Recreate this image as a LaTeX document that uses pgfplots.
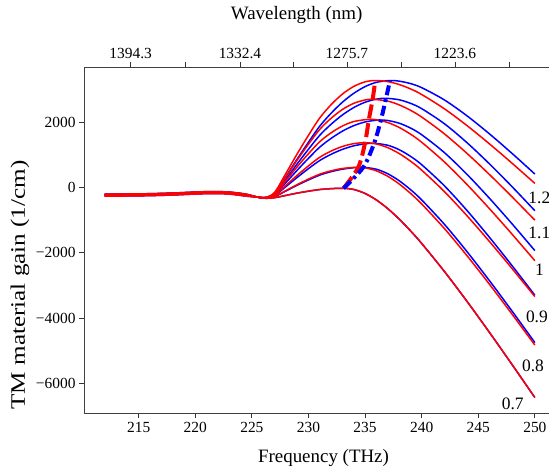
\documentclass[border=0pt]{standalone}
\usepackage{pgfplots}
\pgfplotsset{compat=1.18}
\usepackage{fontspec}
\setmainfont{Liberation Serif}

\definecolor{gainred}{RGB}{255,0,0}
\definecolor{gainblue}{RGB}{0,0,255}

\pgfplotsset{
  frame/.style={
    at={(84bp,57.7bp)}, anchor=south west,
    scale only axis, width=473.5bp, height=346.3bp,
    xmin=210.17, xmax=252, ymin=-6919, ymax=3684,
    tick align=outside,
    major tick length=5bp, minor tick length=5bp,
    tick style={black!80, line width=0.8bp},
    axis line style={black!75, line width=0.9bp},
    tick label style={font=\fontsize{15.5}{17}\selectfont},
    /pgf/number format/assume math mode=true,
  },
  gr/.style={gainred, line width=1.5bp, smooth, no markers},
  gb/.style={gainblue, line width=1.5bp, smooth, no markers},
}

\begin{document}
\begin{tikzpicture}
% wavelength scale along the top
\begin{axis}[frame,
  hide y axis,
  axis x line*=top,
  xtick pos=right, xticklabel pos=right,
  xtick={214.29,223.95,233.40,242.94},
  xticklabels={1394.3,1332.4,1275.7,1223.6},
  minor xtick={219.09,228.64,238.17,247.71},
]
\end{axis}

\begin{axis}[frame,
  xtick pos=left, ytick pos=left,
  xtick={215,220,...,250},
  ytick={-6000,-4000,-2000,0,2000},
  yticklabels={−6000,−4000,−2000,0,2000},
  clip=false,
]
% blue set
\addplot[gb] coordinates {(212,-270) (214,-265) (216,-255) (218,-235) (220,-205) (221.5,-190) (223,-205) (224.5,-270) (225.5,-300) (226.2,-335)
 (227,-318) (228,-248) (229,-178) (230,-118) (231,-68) (232,-41) (233.1,-30) (234,-66) (235,-188) (236,-387) (237,-651) (238,-968) (239,-1327) (240,-1718) (242,-2572) (244,-3489) (246,-4448) (248,-5434) (250,-6436)};
\addplot[gb] coordinates {(212,-255) (214,-250) (216,-240) (218,-220) (220,-190) (221.5,-175) (223,-190) (224.5,-255) (225.5,-300) (226.2,-330)
 (227,-286) (228,-114) (229,62) (230,226) (231,374) (232,479) (233,555) (234,600) (234.84,612) (236,554) (237,416) (238,205) (239,-66) (240,-385) (242,-1129) (244,-1967) (246,-2864) (248,-3797) (250,-4754)};
\addplot[gb] coordinates {(212,-240) (214,-235) (216,-225) (218,-205) (220,-175) (221.5,-160) (223,-175) (224.5,-240) (225.5,-300) (226.2,-325)
 (227,-255) (228,20) (229,303) (230,572) (231,822) (232,1011) (233,1162) (234,1270) (235,1332) (235.8,1347) (237,1288) (238,1154) (239,952) (240,693) (242,49) (244,-708) (246,-1535) (248,-2405) (250,-3304)};
\addplot[gb] coordinates {(212,-230) (214,-225) (216,-215) (218,-195) (220,-165) (221.5,-150) (223,-165) (224.5,-230) (225.5,-300) (226.2,-320)
 (227,-226) (228,141) (229,522) (230,887) (231,1232) (232,1498) (233,1720) (234,1888) (235,2001) (236,2055) (236.4,2060) (237,2046) (238,1965) (239,1817) (240,1610) (242,1065) (244,399) (246,-340) (248,-1124) (250,-1938)};
\addplot[gb] coordinates {(212,-220) (214,-215) (216,-205) (218,-185) (220,-155) (221.5,-140) (223,-155) (224.5,-220) (225.5,-300) (226.2,-315)
 (227,-201) (228,247) (229,716) (230,1166) (231,1594) (232,1932) (233,2216) (234,2442) (235,2605) (236,2700) (236.85,2725) (238,2681) (239,2573) (240,2409) (242,1949) (244,1368) (246,714) (248,14) (250,-716)};
\addplot[gb] coordinates {(212,-210) (214,-205) (216,-195) (218,-175) (220,-145) (221.5,-130) (223,-145) (224.5,-210) (225.5,-300) (226.2,-310)
 (227,-181) (228,330) (229,864) (230,1381) (231,1875) (232,2268) (233,2606) (234,2878) (235,3083) (236,3214) (237.2,3270) (238,3251) (239,3177) (240,3051) (242,2677) (244,2190) (246,1633) (248,1033) (250,406)};
% red set
\addplot[gr] coordinates {(212,-270) (214,-265) (216,-255) (218,-235) (220,-205) (221.5,-190) (223,-205) (224.5,-270) (225.5,-300) (226.2,-335)
 (227,-318) (228,-248) (229,-178) (230,-118) (231,-68) (232,-41) (233.1,-30) (234,-66) (235,-188) (236,-387) (237,-651) (238,-968) (239,-1327) (240,-1718) (242,-2572) (244,-3489) (246,-4448) (248,-5434) (250,-6436)};
\addplot[gr] coordinates {(212,-255) (214,-250) (216,-240) (218,-220) (220,-190) (221.5,-175) (223,-190) (224.5,-255) (225.5,-300) (226.2,-330)
 (227,-283) (228,-102) (229,82) (230,252) (231,403) (232,505) (233,576) (234,609) (234.4,612) (235,597) (236,505) (237,338) (238,106) (239,-181) (240,-509) (242,-1259) (244,-2091) (246,-2974) (248,-3891) (250,-4829)};
\addplot[gr] coordinates {(212,-240) (214,-235) (216,-225) (218,-205) (220,-175) (221.5,-160) (223,-175) (224.5,-240) (225.5,-300) (226.2,-325)
 (227,-246) (228,57) (229,367) (230,657) (231,921) (232,1110) (233,1251) (234,1337) (235,1366) (236,1328) (237,1215) (238,1037) (239,804) (240,526) (242,-128) (244,-869) (246,-1664) (248,-2493) (250,-3346)};
\addplot[gr] coordinates {(212,-230) (214,-225) (216,-215) (218,-195) (220,-165) (221.5,-150) (223,-165) (224.5,-230) (225.5,-300) (226.2,-320)
 (227,-211) (228,202) (229,628) (230,1029) (231,1398) (232,1669) (233,1877) (234,2014) (235.34,2083) (236,2067) (237,1984) (238,1835) (239,1631) (240,1380) (242,779) (244,87) (246,-659) (248,-1441) (250,-2247)};
\addplot[gr] coordinates {(212,-220) (214,-215) (216,-205) (218,-185) (220,-155) (221.5,-140) (223,-155) (224.5,-220) (225.5,-300) (226.2,-315)
 (227,-184) (228,315) (229,832) (230,1322) (231,1775) (232,2115) (233,2383) (234,2571) (235,2675) (235.67,2695) (237,2639) (238,2526) (239,2361) (240,2152) (242,1639) (244,1040) (246,388) (248,-297) (250,-1005)};
\addplot[gr] coordinates {(212,-210) (214,-205) (216,-195) (218,-175) (220,-145) (221.5,-130) (223,-145) (224.5,-210) (225.5,-300) (226.2,-310)
 (227,-159) (228,422) (229,1022) (230,1593) (231,2126) (232,2530) (233,2855) (234,3089) (235,3229) (235.9,3270) (237,3236) (238,3149) (239,3015) (240,2842) (242,2406) (244,1891) (246,1327) (248,733) (250,120)};

% loci of the gain peaks
\addplot[gainred, line width=4bp, dash pattern=on 14bp off 5bp, smooth, no markers]
  coordinates {(233.1,-30) (234.4,612) (235.0,1366) (235.34,2083) (235.67,2695) (235.9,3270)};
\addplot[gainblue, line width=4bp, dash pattern=on 10bp off 4bp on 3bp off 4bp, smooth, no markers]
  coordinates {(233.1,-30) (234.84,612) (235.8,1347) (236.4,2060) (236.85,2725) (237.2,3270)};

% carrier density of each pair
\begin{scope}[every node/.style={anchor=west, inner sep=0pt, font=\fontsize{17.5}{19}\selectfont}]
\node at (axis cs:249.42,-330) {1.2};
\node at (axis cs:249.42,-1400) {1.1};
\node at (axis cs:250.0,-2535) {1};
\node at (axis cs:249.2,-3963) {0.9};
\node at (axis cs:248.86,-5467) {0.8};
\node at (axis cs:247.07,-6637) {0.7};
\end{scope}
\end{axis}

\node[font=\fontsize{19}{21}\selectfont, inner sep=0pt] at (323.5bp,13.5bp) {Frequency (THz)};
\node[font=\fontsize{19}{21}\selectfont, inner sep=0pt] at (296.7bp,456bp) {Wavelength (nm)};
\node[font=\fontsize{20}{22}\selectfont, inner sep=0pt, rotate=90] at (20bp,186bp) {\scalebox{1.26}[1.03]{TM material gain (1/cm)}};

\pgfresetboundingbox
\path[use as bounding box] (0,0) rectangle (549bp,471bp);
\end{tikzpicture}
\end{document}
